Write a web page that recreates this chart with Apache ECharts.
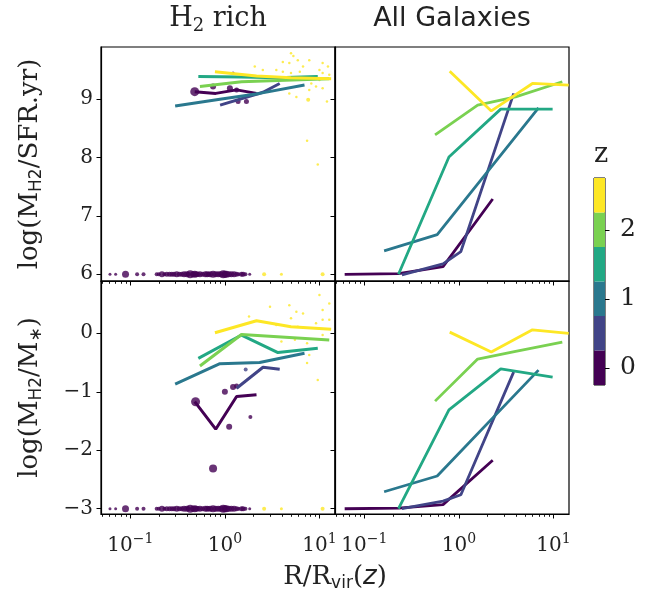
<!DOCTYPE html>
<html><head><meta charset="utf-8">
<script src="https://cdn.jsdelivr.net/npm/echarts@6/dist/echarts.min.js"></script>
<style>html,body{margin:0;padding:0;background:#fff}#c{width:660px;height:596px}</style>
</head><body><div id="c"></div>
<script>
// ---------- data ----------
const zLevels = [0, 0.5, 1, 1.5, 2, 2.5];
const zColors = ['#440154', '#414487', '#2a788e', '#22a884', '#7ad151', '#fde725'];
const zEdges = [-0.25, 0.25, 0.75, 1.25, 1.75, 2.25, 2.75];
const zTicks = [0, 1, 2];

const xMajor = [0.1, 1, 10];
const xMinor = [0.05, 0.06, 0.07, 0.08, 0.09, 0.2, 0.3, 0.4, 0.5, 0.6, 0.7, 0.8, 0.9, 2, 3, 4, 5, 6, 7, 8, 9];
const xRange = [0.049, 14.6];
const yTopTicks = [6, 7, 8, 9];
const yTopRange = [5.885, 9.895];
const yBotTicks = [-3, -2, -1, 0];
const yBotRange = [-3.09, 0.894];

// "H2 rich" median lines, one per redshift bin
const richTopX = [[0.48, 0.80, 1.33, 2.16], [0.89, 2.53, 3.8], [0.298, 0.886, 2.33, 6.95], [0.524, 1.5, 3.64, 9.6], [0.545, 1.5, 12.7], [0.785, 2.16, 5.0, 13.3]];
const richTopY = [[9.13, 9.10, 9.16, 9.10], [8.90, 9.12, 9.27], [8.885, 9.0, 9.1, 9.245], [9.39, 9.38, 9.37, 9.39], [9.22, 9.30, 9.35], [9.47, 9.40, 9.37, 9.35]];
const richBotX = [[0.48, 0.80, 1.33, 2.16], [1.33, 2.53, 3.8], [0.298, 0.886, 2.33, 6.95], [0.524, 1.5, 3.64, 9.6], [0.545, 1.5, 12.7], [0.785, 2.16, 5.0, 13.3]];
const richBotY = [[-1.17, -1.64, -1.08, -1.05], [-0.94, -0.58, -0.615], [-0.87, -0.52, -0.50, -0.34], [-0.43, -0.03, -0.33, -0.255], [-0.56, -0.02, -0.115], [0.01, 0.215, 0.11, 0.07]];

// "All Galaxies" median lines
const allX = [[0.062, 0.23, 0.68, 2.28], [0.25, 0.68, 1.05, 3.8], [0.162, 0.59, 6.95], [0.23, 0.785, 2.77, 9.8], [0.56, 1.58, 3.98, 12.4], [0.80, 2.2, 6.0, 14.5]];
const allTopY = [[6.0, 6.01, 6.13, 7.29], [5.99, 6.18, 6.39, 9.10], [6.40, 6.68, 8.85], [6.0, 8.01, 8.83, 8.83], [8.39, 8.90, 9.04, 9.30], [9.48, 8.80, 9.27, 9.24]];
const allBotY = [[-3.0, -2.99, -2.93, -2.17], [-3.0, -2.87, -2.76, -0.66], [-2.71, -2.44, -0.63], [-3.0, -1.31, -0.61, -0.75], [-1.16, -0.44, -0.31, -0.15], [0.02, -0.32, 0.06, 0.0]];

// galaxies at the floor value (no H2)
const floorTop = 6.0, floorBot = -3.0;
const floorX = [0.061, 0.070, 0.089, 0.118, 0.138, 0.19, 0.2, 0.216, 0.23, 0.243, 0.26, 0.275, 0.29, 0.31, 0.33, 0.35, 0.37, 0.395, 0.41, 0.43, 0.46, 0.48, 0.5, 0.52, 0.545, 0.58, 0.62, 0.65, 0.67, 0.7, 0.75, 0.8, 0.85, 0.9, 0.96, 1.0, 1.04, 1.1, 1.17, 1.25, 1.33, 1.4, 1.5, 1.56, 1.65, 1.83, 2.6, 3.96, 10.8];
const floorSize = [3, 3, 7, 4, 4, 4, 4, 6, 4, 5, 5, 5, 5, 6, 5, 5, 6, 6, 5, 8, 6, 7, 6, 5, 6, 5, 6, 6, 5, 6, 7, 6, 6, 6, 8, 7, 7, 6, 6, 6, 5, 4, 5, 5, 4, 3, 4, 3, 4];
const floorZ = [0, 0, 0, 0, 0, 0, 0, 0, 0, 0, 0, 0, 0, 0, 0, 0, 0, 0, 0, 0, 0, 0, 0, 0, 0, 0, 0, 0, 0, 0, 0, 0, 0, 0, 0, 0, 0, 0, 0, 0, 0, 0, 0, 0, 0, 0, 2.5, 2.5, 2.5];

// individual H2-rich galaxies
const dotTopX = [0.48, 0.75, 1.13, 1.33, 1.38, 1.69, 1.22, 7.6];
const dotTopY = [9.13, 9.22, 9.19, 9.16, 8.96, 8.96, 9.45, 8.99];
const dotTopSize = [9, 6, 6, 5, 5, 5, 3, 4];
const dotTopZ = [0, 0, 0, 0, 0, 0, 0, 2.5];
const dotBotX = [0.49, 1.0, 1.22, 1.33, 1.11, 0.75, 1.86, 1.66];
const dotBotY = [-1.17, -1.0, -0.92, -0.90, -1.60, -2.31, -1.43, -0.62];
const dotBotSize = [9, 6, 6, 5, 6, 8, 4, 4];
const dotBotZ = [0, 0, 0, 0, 0, 0, 0, 0.5];

// high-z cloud (small points)
const cloudTopX = [5.0, 5.3, 4.1, 4.8, 5.9, 6.7, 7.8, 10.8, 12.3, 10, 10.8, 12.7, 5.0, 6.2, 4.1, 3.5, 4.8, 5.7, 7.8, 9.2, 10.8, 12, 8.2, 10, 7.4, 9.6, 2.07, 2.52];
const cloudTopY = [9.79, 9.74, 9.64, 9.62, 9.67, 9.56, 9.67, 9.62, 9.56, 9.50, 9.45, 9.42, 9.45, 9.47, 9.47, 9.50, 9.10, 9.04, 9.16, 9.22, 9.19, 8.96, 9.27, 9.33, 8.29, 7.88, 9.56, 9.50];
const cloudBotX = [3.0, 4.8, 5.7, 6.7, 10, 10.8, 12.7, 10.8, 9.2, 12.7, 3.96, 5.5, 7.4, 7.8, 7.4, 9.6, 5.0, 3.5, 1.8, 10.8, 5.9];
const cloudBotY = [0.455, 0.48, 0.37, 0.34, 0.655, 0.40, 0.51, 0.23, 0.17, 0.23, -0.14, -0.11, -0.17, -0.37, -0.51, -0.80, 0.256, 0.14, 0.285, -0.03, 0.11];

// ---------- chart ----------
const SERIF = 'DejaVu Serif';
const TXT = '#222';
const lg = Math.log10;
const colorOf = z => zColors[zLevels.indexOf(z)];
const fmtNum = v => (v < 0 ? '\u2212' + (-v) : String(v));

const panels = [
  {left: 101, top: 47, height: 234, xLab: false, yLab: true, yT: yTopTicks, yR: yTopRange},
  {left: 335, top: 47, height: 234, xLab: false, yLab: false, yT: yTopTicks, yR: yTopRange},
  {left: 101, top: 281, height: 233, xLab: true, yLab: true, yT: yBotTicks, yR: yBotRange},
  {left: 335, top: 281, height: 233, xLab: true, yLab: false, yT: yBotTicks, yR: yBotRange}
];
const grid = [], xAxis = [], yAxis = [];
panels.forEach((p, i) => {
  grid.push({left: p.left, top: p.top, width: 234, height: p.height, show: true,
    borderColor: '#000', borderWidth: 1.2, backgroundColor: 'transparent', containLabel: false});
  xAxis.push({type: 'value', gridIndex: i, position: 'bottom', min: lg(xRange[0]), max: lg(xRange[1]),
    splitLine: {show: false},
    axisLine: {show: true, onZero: false, lineStyle: {color: '#000', width: 1.2}},
    axisTick: {show: true, inside: false, length: 4.5, lineStyle: {color: '#000', width: 1}, customValues: xMajor.map(lg)},
    axisLabel: {show: p.xLab, customValues: xMajor.map(lg), margin: 18, color: TXT,
      formatter: v => '{b|10}{s|' + fmtNum(Math.round(v)) + '}',
      rich: {b: {fontFamily: SERIF, fontSize: 20, lineHeight: 28, color: TXT},
             s: {fontFamily: SERIF, fontSize: 14, lineHeight: 12, verticalAlign: 'top', color: TXT}}}
  });
  xAxis.push({type: 'value', gridIndex: i, position: 'bottom', offset: 0, min: lg(xRange[0]), max: lg(xRange[1]),
    splitLine: {show: false}, axisLine: {show: false, onZero: false},
    axisTick: {show: true, inside: false, length: 2.8, lineStyle: {color: '#000', width: 0.9}, customValues: xMinor.map(lg)},
    axisLabel: {show: false}
  });
  yAxis.push({type: 'value', gridIndex: i, min: p.yR[0], max: p.yR[1],
    splitLine: {show: false},
    axisLine: {show: true, onZero: false, lineStyle: {color: '#000', width: 1.2}},
    axisTick: {show: true, inside: false, length: 4.5, lineStyle: {color: '#000', width: 1}, customValues: p.yT},
    axisLabel: {show: p.yLab, customValues: p.yT, margin: 8, fontFamily: SERIF, fontSize: 20, color: TXT, formatter: fmtNum},
    name: p.yLab ? (i === 0 ? '{n|log(M}{sub|H2}{n|/SFR.yr)}' : '{n|log(M}{sub|H2}{n|/M}{sub|\u2217}{n|)}') : '',
    nameLocation: 'middle', nameRotate: 90, nameGap: 56,
    nameTextStyle: {rich: {n: {fontFamily: SERIF, fontSize: 26, color: TXT, lineHeight: 30},
                           sub: {fontFamily: 'DejaVu Sans', fontSize: 17, color: TXT, lineHeight: 14, verticalAlign: 'bottom'}}}
  });
});
// colour bar
grid.push({left: 594, top: 178, width: 11, height: 207, show: true, borderColor: '#000', borderWidth: 1, backgroundColor: 'transparent'});
xAxis.push({type: 'value', gridIndex: 4, min: 0, max: 1, show: false});
yAxis.push({type: 'value', gridIndex: 4, position: 'right', min: zEdges[0], max: zEdges[zEdges.length - 1],
  splitLine: {show: false}, axisLine: {show: false, onZero: false},
  axisTick: {show: true, inside: false, length: 4.5, lineStyle: {color: '#000', width: 1}, customValues: zTicks},
  axisLabel: {show: true, customValues: zTicks, margin: 15, fontFamily: SERIF, fontSize: 25, color: TXT}
});

const series = [];
function addScatter(gi, xs, ys, sizes, zs, constY) {
  series.push({type: 'scatter', xAxisIndex: gi * 2, yAxisIndex: gi, silent: true, animation: false,
    data: xs.map((x, k) => ({value: [lg(x), constY !== undefined ? constY : ys[k]],
      symbolSize: Array.isArray(sizes) ? sizes[k] : sizes,
      itemStyle: {color: colorOf(Array.isArray(zs) ? zs[k] : zs)}}))});
}
function addLines(gi, X, Y, width) {
  X.forEach((xs, k) => {
    series.push({type: 'line', xAxisIndex: gi * 2, yAxisIndex: gi, silent: true, animation: false,
      symbol: 'none', lineStyle: {color: zColors[k], width: width}, clip: true,
      data: xs.map((x, j) => [lg(x), Y[k][j]])});
  });
}
// H2 rich top
addScatter(0, cloudTopX, cloudTopY, 2.5, 2.5);
addScatter(0, floorX, null, floorSize, floorZ, floorTop);
addLines(0, richTopX, richTopY, 3);
addScatter(0, dotTopX, dotTopY, dotTopSize, dotTopZ);
// All top
addLines(1, allX, allTopY, 2.8);
// H2 rich bottom
addScatter(2, cloudBotX, cloudBotY, 2.5, 2.5);
addScatter(2, floorX, null, floorSize, floorZ, floorBot);
addLines(2, richBotX, richBotY, 3);
addScatter(2, dotBotX, dotBotY, dotBotSize, dotBotZ);
// All bottom
addLines(3, allX, allBotY, 2.8);
// colour bar bands
series.push({type: 'line', xAxisIndex: 8, yAxisIndex: 4, silent: true, animation: false, symbol: 'none',
  lineStyle: {opacity: 0}, data: [[0, zEdges[0]]],
  markArea: {silent: true, label: {show: false},
    data: zColors.map((c, k) => [{yAxis: zEdges[k], itemStyle: {color: c, opacity: 1}}, {yAxis: zEdges[k + 1]}])}});

const graphic = [
  {type: 'text', x: 218, y: 19, style: {text: '{n|H}{sub|2}{n| rich}', textAlign: 'center', textVerticalAlign: 'middle',
    rich: {n: {fontFamily: SERIF, fontSize: 27, fill: TXT, lineHeight: 32}, sub: {fontFamily: SERIF, fontSize: 18, fill: TXT, lineHeight: 16, verticalAlign: 'bottom'}}}},
  {type: 'text', x: 452, y: 19, style: {text: 'All Galaxies', textAlign: 'center', textVerticalAlign: 'middle',
    fontFamily: 'DejaVu Sans', fontSize: 27, fill: TXT}},
  {type: 'text', x: 601, y: 155, style: {text: 'z', textAlign: 'center', textVerticalAlign: 'middle',
    fontFamily: SERIF, fontSize: 27, fill: TXT}},
  {type: 'text', x: 335, y: 577, style: {text: '{n|R/R}{sub|vir}{n|(}{i|z}{n|)}', textAlign: 'center', textVerticalAlign: 'middle',
    rich: {n: {fontFamily: SERIF, fontSize: 26, fill: TXT, lineHeight: 30}, i: {fontFamily: 'DejaVu Sans', fontStyle: 'italic', fontSize: 26, fill: TXT, lineHeight: 30},
           sub: {fontFamily: 'DejaVu Sans', fontSize: 17, fill: TXT, lineHeight: 14, verticalAlign: 'bottom'}}}}
];

const chart = echarts.init(document.getElementById('c'), null, {renderer: 'canvas'});
chart.setOption({animation: false, backgroundColor: '#fff', grid, xAxis, yAxis, series, graphic});
</script></body></html>
